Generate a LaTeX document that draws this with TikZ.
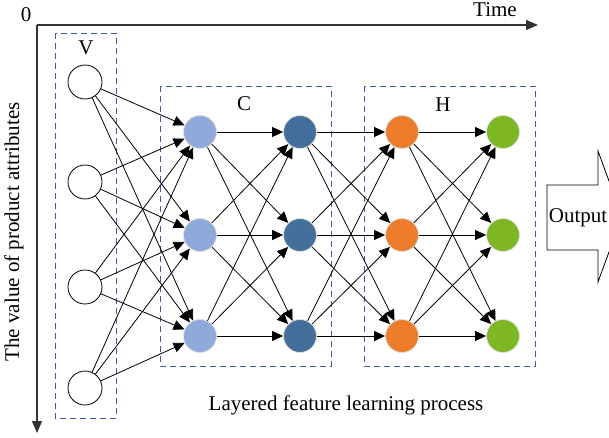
\documentclass[tikz,border=0pt]{standalone}
\usepackage{fontspec}
\setmainfont{Liberation Serif}
\usetikzlibrary{arrows.meta}

\definecolor{boxblue}{RGB}{66,88,170}
\definecolor{lightblue}{RGB}{143,170,218}
\definecolor{darkblue}{RGB}{68,111,155}
\definecolor{orangeC}{RGB}{237,125,42}
\definecolor{greenC}{RGB}{126,182,36}

\tikzset{
    neuron/.style = {circle, minimum size=33pt, inner sep=0pt, draw=gray!25, line width=0.8pt},
    innode/.style = {circle, minimum size=34pt, inner sep=0pt, draw=black, fill=white, line width=0.8pt},
    layerbox/.style = {draw=boxblue, dash pattern=on 6pt off 4pt, line width=0.9pt},
    link/.style = {-{Triangle[length=11pt,width=10pt]}, line width=0.8pt},
    axis/.style = {-{Triangle[length=12pt,width=10pt]}, line width=1.3pt, draw=black!80},
    txt/.style = {font=\fontsize{21}{24}\selectfont, inner sep=0pt}
}

\begin{document}
\begin{tikzpicture}[x=1pt, y=-1pt]
    % Fix the size of the picture
    \useasboundingbox (0,0) rectangle (609,438);
    \clip (0,0) rectangle (609,438);

    % Draw axes
    \coordinate (O) at (37,25);
    \coordinate (T) at (538,25);
    \coordinate (A) at (37,433);
    \draw[axis] (O) -- (T);
    \draw[axis] (O) -- (A);
    \node[txt] (zero) at (26,15) {0};
    \node[txt, anchor=north] (time) at (495,2.5) {Time};
    \node[txt, rotate=90] (attr) at (14,232) {The value of product attributes};

    % Draw dashed layer boxes
    \draw[layerbox] (55,33) rectangle (116,418);
    \draw[layerbox] (160,86) rectangle (331,366);
    \draw[layerbox] (364,86) rectangle (535,366);
    \node[txt] (vlab) at (86,48) {V};
    \node[txt] (clab) at (244,104) {C};
    \node[txt] (hlab) at (443,105) {H};

    % Input units
    \node[innode] (v1) at (85,82) {};
    \node[innode] (v2) at (85,182) {};
    \node[innode] (v3) at (85,287) {};
    \node[innode] (v4) at (85,388) {};

    % Hidden units
    \node[neuron, fill=lightblue] (ca1) at (200,132) {};
    \node[neuron, fill=lightblue] (ca2) at (200,235) {};
    \node[neuron, fill=lightblue] (ca3) at (200,336) {};
    \node[neuron, fill=darkblue] (cb1) at (300,132) {};
    \node[neuron, fill=darkblue] (cb2) at (300,235) {};
    \node[neuron, fill=darkblue] (cb3) at (300,336) {};
    \node[neuron, fill=orangeC] (ha1) at (402,132) {};
    \node[neuron, fill=orangeC] (ha2) at (402,235) {};
    \node[neuron, fill=orangeC] (ha3) at (402,336) {};
    \node[neuron, fill=greenC] (hb1) at (503,132) {};
    \node[neuron, fill=greenC] (hb2) at (503,235) {};
    \node[neuron, fill=greenC] (hb3) at (503,336) {};

    % Connections between layers
    \foreach \i in {1,...,4}
        \foreach \j in {1,2,3}
            \draw[link] (v\i) -- (ca\j);
    \foreach \i in {1,2,3}
        \foreach \j in {1,2,3} {
            \draw[link] (ca\i) -- (cb\j);
            \draw[link] (cb\i) -- (ha\j);
            \draw[link] (ha\i) -- (hb\j);
        }

    % Output arrow
    \draw[line width=0.8pt, fill=white] (547,185) -- (598,185) -- (598,151) -- (622,216.5)
        -- (598,282) -- (598,250) -- (547,250) -- cycle;
    \node[txt] (out) at (578,218) {Output};

    % Caption
    \node[txt] (proc) at (346,405) {Layered feature learning process};
\end{tikzpicture}
\end{document}
